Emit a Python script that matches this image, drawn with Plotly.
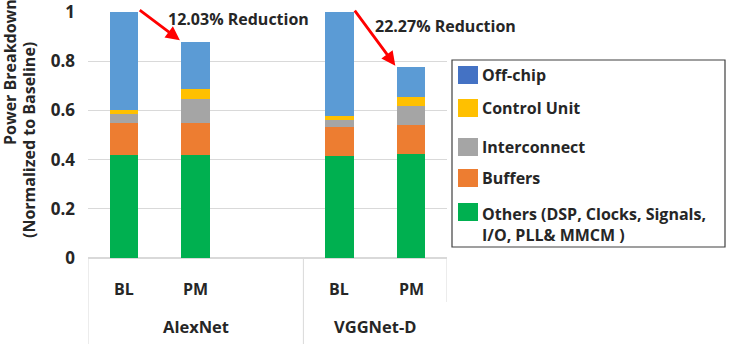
import plotly.graph_objects as go

# ---------------- data ----------------
categories = ["BL", "PM", "", "BL", "PM"]
groups = ["AlexNet", "VGGNet-D"]
group_sizes = [3, 2]

series_names = ["Others (DSP, Clocks, Signals,<br>I/O, PLL& MMCM )", "Buffers",
                "Interconnect", "Control Unit", "Off-chip"]
others = [0.42, 0.42, None, 0.414, 0.424]
buffers = [0.13, 0.13, None, 0.117, 0.115]
interconnect = [0.035, 0.098, None, 0.030, 0.078]
control_unit = [0.015, 0.039, None, 0.017, 0.038]
off_chip = [0.40, 0.193, None, 0.422, 0.122]
series_values = [others, buffers, interconnect, control_unit, off_chip]
series_colors = ["#00B050", "#ED7D31", "#A5A5A5", "#FFC000", "#5B9BD5"]
legend_colors = ["#00B050", "#ED7D31", "#A5A5A5", "#FFC000", "#4472C4"]

y_ticks = [0, 0.2, 0.4, 0.6, 0.8, 1]
y_tick_text = ["0", "0.2", "0.4", "0.6", "0.8", "1"]

reduction_labels = ["12.03% Reduction", "22.27% Reduction"]
reduction_pairs = [(0, 1), (3, 4)]  # (baseline index, proposed index)

# ---------------- layout constants ----------------
W, H = 732, 344
L, R, T, B = 88, 447, 12, 258  # plot area in pixels
FONT = "Open Sans"
TXT = "#262626"
FS = 16

def px_x(p):
    return (p - L) / (R - L)

def px_y(p):
    return (B - p) / (B - T)

def fnt(size=FS):
    return dict(size=size, color=TXT, family=FONT, weight="bold")

x = list(range(len(categories)))
fig = go.Figure()
for name, vals, col in zip(series_names, series_values, series_colors):
    fig.add_trace(go.Bar(x=x, y=vals, name=name, marker=dict(color=col, line=dict(width=0)),
                         width=0.4, showlegend=False))

annotations = []
shapes = []

# category labels
for i, c in enumerate(categories):
    if c:
        annotations.append(dict(x=i, xref="x", y=px_y(289), yref="paper", text=c,
                                xanchor="center", yanchor="middle",
                                showarrow=False, font=fnt()))
# group labels + separators
start = 0
for g, n in zip(groups, group_sizes):
    mid = start + (n - 1) / 2
    annotations.append(dict(x=mid, xref="x", y=px_y(326), yref="paper", text=g,
                            xanchor="center", yanchor="middle",
                            showarrow=False, font=fnt(16.5)))
    start += n
bounds = [-0.5]
acc = -0.5
for n in group_sizes:
    acc += n
    bounds.append(acc)
for j, bx in enumerate(bounds):
    y1 = px_y(302) if j == len(bounds) - 1 else px_y(344)
    shapes.append(dict(type="line", xref="x", yref="paper", x0=bx, x1=bx, y0=0, y1=y1,
                       line=dict(color="#D9D9D9", width=1)))

# reduction arrows
text_pos = [(166, 19), (373, 26)]
for (bi, pi), lab, (tx, ty) in zip(reduction_pairs, reduction_labels, text_pos):
    tot_b = sum(v[bi] for v in series_values)
    tot_p = sum(v[pi] for v in series_values)
    annotations.append(dict(x=pi - 0.22, y=tot_p + 0.005, xref="x", yref="y",
                            ax=bi + 0.2, ay=tot_b + 0.012, axref="x", ayref="y",
                            showarrow=True, arrowhead=2, arrowsize=1, arrowwidth=2.8,
                            arrowcolor="#FF0000", text=""))
    annotations.append(dict(x=px_x(tx), y=px_y(ty), xref="paper", yref="paper", text=lab,
                            xanchor="left", yanchor="middle", showarrow=False,
                            font=fnt()))

# y axis title (two lines)
annotations.append(dict(x=px_x(29), y=px_y(140), xref="paper", yref="paper",
                        xanchor="center", yanchor="middle",
                        text="(Normalized to Baseline)", textangle=-90, showarrow=False,
                        font=fnt()))
annotations.append(dict(x=px_x(10), y=px_y(72), xref="paper", yref="paper",
                        xanchor="center", yanchor="middle",
                        text="Power Breakdown", textangle=-90, showarrow=False,
                        font=fnt()))

# manual legend
shapes.append(dict(type="rect", xref="paper", yref="paper", x0=px_x(452), x1=px_x(725),
                   y0=px_y(247), y1=px_y(60), line=dict(color="#404040", width=1.2),
                   fillcolor="white"))
legend_order = [4, 3, 2, 1, 0]
legend_y = [75, 108, 147, 178, 212]
for k, yy in zip(legend_order, legend_y):
    shapes.append(dict(type="rect", xref="paper", yref="paper", x0=px_x(458), x1=px_x(478),
                       y0=px_y(yy + 9), y1=px_y(yy - 9), line=dict(width=0),
                       fillcolor=legend_colors[k]))
    two = "<br>" in series_names[k]
    annotations.append(dict(x=px_x(480), y=px_y(yy - 11 if two else yy),
                            xref="paper", yref="paper", text=series_names[k],
                            xanchor="left", yanchor="top" if two else "middle", align="left",
                            showarrow=False, font=fnt()))

fig.update_layout(
    width=W, height=H, margin=dict(l=L, r=W - R, t=T, b=H - B, autoexpand=False),
    barmode="stack", plot_bgcolor="white", paper_bgcolor="white",
    showlegend=False, bargap=0,
    xaxis=dict(range=[-0.5, 4.5], showticklabels=False, showgrid=False, zeroline=False,
               showline=False, fixedrange=True),
    yaxis=dict(range=[0, 1.0], tickvals=y_ticks, ticktext=y_tick_text,
               showgrid=True, gridcolor="#D9D9D9", gridwidth=1,
               zeroline=True, zerolinecolor="#D9D9D9", showline=False,
               tickfont=fnt(17), ticklabelstandoff=12, ticklabeloverflow="allow",
               automargin=False, fixedrange=True),
    annotations=annotations, shapes=shapes,
)

fig.write_html("out.html")
